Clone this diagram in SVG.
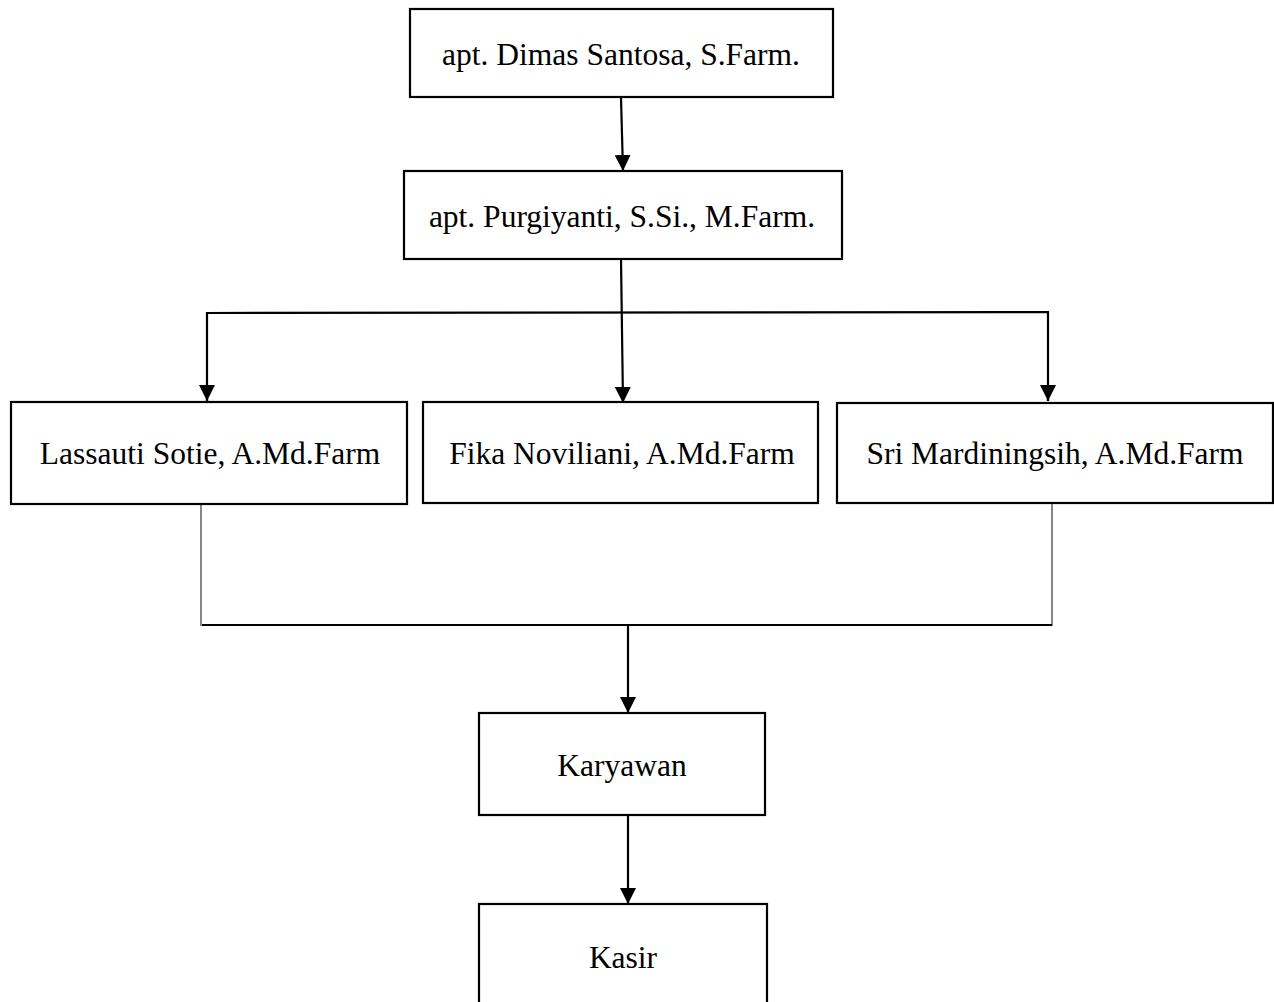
<svg xmlns="http://www.w3.org/2000/svg" width="1274" height="1002" viewBox="0 0 1274 1002">
<style>
.box{fill:#fff;stroke:#000;stroke-width:2.2}
.lbl{font-family:"Liberation Serif","Times New Roman",serif;font-size:31.5px;fill:#000;text-anchor:middle}
.c{fill:none;stroke:#000;stroke-width:2.2}
.thin{fill:none;stroke:#444;stroke-width:1.3}
</style>
<defs>
<marker id="ah" markerUnits="userSpaceOnUse" markerWidth="16" markerHeight="16" viewBox="0 0 14 14" refX="14" refY="7" orient="auto">
<path d="M0,0 L14,7 L0,14 z" fill="#000"/>
</marker>
</defs>
<rect width="1274" height="1002" fill="#fff"/>
<g id="connectors">
<line class="c" x1="621" y1="98" x2="623" y2="171" marker-end="url(#ah)"/>
<line class="c" x1="621" y1="259" x2="623" y2="403" marker-end="url(#ah)"/>
<polyline class="c" points="207,401 207,313 1048,312 1048,401" />
<line class="c" x1="207" y1="388" x2="207" y2="401" marker-end="url(#ah)"/>
<line class="c" x1="1048" y1="388" x2="1048" y2="401" marker-end="url(#ah)"/>
<line class="thin" x1="201" y1="504" x2="201" y2="626"/>
<line class="thin" x1="1052" y1="503" x2="1052" y2="626"/>
<line class="c" x1="202" y1="625" x2="1052" y2="625"/>
<line class="c" x1="628" y1="625" x2="628" y2="713" marker-end="url(#ah)"/>
<line class="c" x1="628" y1="815" x2="628" y2="904" marker-end="url(#ah)"/>
</g>
<g id="node-dimas">
<rect class="box" x="410" y="9" width="423" height="88"/>
<text class="lbl" x="621" y="65">apt. Dimas Santosa, S.Farm.</text>
</g>
<g id="node-purgiyanti">
<rect class="box" x="404" y="171" width="438" height="88"/>
<text class="lbl" x="622" y="227">apt. Purgiyanti, S.Si., M.Farm.</text>
</g>
<g id="node-lassauti">
<rect class="box" x="11" y="402" width="396" height="102"/>
<text class="lbl" x="210" y="464">Lassauti Sotie, A.Md.Farm</text>
</g>
<g id="node-fika">
<rect class="box" x="423" y="402" width="395" height="101"/>
<text class="lbl" x="622" y="464">Fika Noviliani, A.Md.Farm</text>
</g>
<g id="node-sri">
<rect class="box" x="837" y="403" width="436" height="100"/>
<text class="lbl" x="1055" y="464">Sri Mardiningsih, A.Md.Farm</text>
</g>
<g id="node-karyawan">
<rect class="box" x="479" y="713" width="286" height="102"/>
<text class="lbl" x="622" y="776">Karyawan</text>
</g>
<g id="node-kasir">
<rect class="box" x="479" y="904" width="288" height="110"/>
<text class="lbl" x="623" y="968">Kasir</text>
</g>
</svg>
